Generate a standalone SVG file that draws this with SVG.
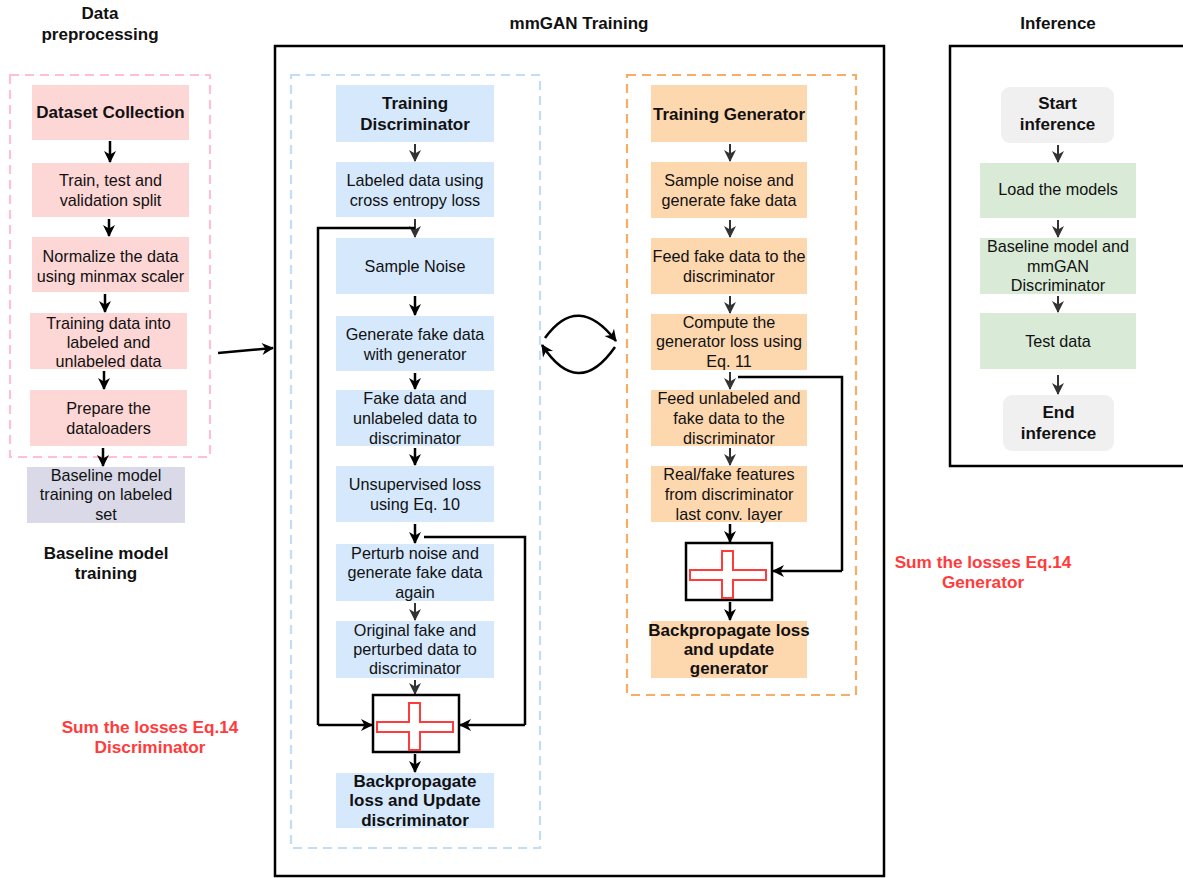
<svg xmlns="http://www.w3.org/2000/svg" width="1183" height="878" viewBox="0 0 1183 878">
<style>
text{font-family:"Liberation Sans",Arial,sans-serif;font-size:16.2px;fill:#111;text-anchor:middle}
.b{font-weight:bold;font-size:17px}
.red{fill:#ff3b3b;font-weight:bold;font-size:17.2px}
.pk{fill:#fdd6d6}
.lv{fill:#d9d9e8}
.bl{fill:#d5e8fc}
.or{fill:#fdd7ae}
.gr{fill:#d9ebd7}
.gy{fill:#f0f0f0}
.frame{fill:none;stroke:#000;stroke-width:2.5}
.dash{fill:none;stroke-width:2.2;stroke-dasharray:9 6}
.plus{fill:#fff;stroke:#000;stroke-width:2.5}
.cross{fill:#fff;stroke:#ff3b3b;stroke-width:2}
.a{fill:none;stroke:#000;stroke-width:2.5;marker-end:url(#ab)}
.g{fill:none;stroke:#333;stroke-width:2;marker-end:url(#ag)}
.ln{fill:none;stroke:#000;stroke-width:2.5}
</style>
<defs>
<marker id="ab" markerUnits="userSpaceOnUse" markerWidth="14" markerHeight="14" viewBox="0 0 14 14" refX="12" refY="7" orient="auto">
<path d="M1,1 L13,7 L1,13 L4.5,7 z" fill="#000"/>
</marker>
<marker id="ag" markerUnits="userSpaceOnUse" markerWidth="14" markerHeight="14" viewBox="0 0 14 14" refX="12" refY="7" orient="auto">
<path d="M1,1 L13,7 L1,13 L4.5,7 z" fill="#333"/>
</marker>
</defs>

<g id="titles">
<text class="b" x="100" y="19">Data</text>
<text class="b" x="100" y="40">preprocessing</text>
<text class="b" x="579" y="29">mmGAN Training</text>
<text class="b" x="1058" y="29">Inference</text>
</g>

<g id="containers">
<rect class="dash" x="10" y="75" width="200" height="382" stroke="#ffbfd6"/>
<rect class="frame" x="275" y="46" width="609" height="830"/>
<rect class="dash" x="291" y="75" width="249" height="773" stroke="#c3dcf7"/>
<rect class="dash" x="627" y="75" width="229" height="620" stroke="#f7ad66"/>
<rect class="frame" x="950" y="46" width="245" height="420"/>
</g>

<g id="connectors">
<path class="a" d="M110,141 V162"/>
<path class="a" d="M109,219 V236"/>
<path class="a" d="M105,294 V312"/>
<path class="a" d="M104,371 V389"/>
<path class="a" d="M103,448 V466"/>
<path class="a" d="M218,353 L273,348"/>
<path class="g" d="M415,144 V161"/>
<path class="g" d="M415,219 V237"/>
<path class="a" d="M415,296 V315"/>
<path class="a" d="M415,373 V389"/>
<path class="a" d="M415,448 V465"/>
<path class="a" d="M415,524 V543"/>
<path class="g" d="M415,603 V620"/>
<path class="g" d="M415,680 V694"/>
<path class="a" d="M415,754 V772"/>
<path class="ln" d="M415,228 H318 V725"/>
<path class="a" d="M318,725 H372"/>
<path class="ln" d="M424,537 H525 V725"/>
<path class="a" d="M525,725 H460"/>
<path class="a" d="M545,338 Q578,292 616,341"/>
<path class="a" d="M615,347 Q578,400 542,345"/>
<path class="g" d="M730,144 V161"/>
<path class="g" d="M730,220 V237"/>
<path class="g" d="M730,296 V313"/>
<path class="g" d="M730,372 V389"/>
<path class="g" d="M730,448 V465"/>
<path class="a" d="M730,524 V542"/>
<path class="a" d="M730,602 V620"/>
<path class="ln" d="M738,377 H842 V571"/>
<path class="a" d="M842,571 H773"/>
<path class="g" d="M1058,145 V162"/>
<path class="g" d="M1058,220 V237"/>
<path class="g" d="M1058,296 V312"/>
<path class="g" d="M1058,375 V394"/>
</g>

<g id="n-dataset"><rect class="pk" x="32" y="85" width="157" height="55"/><text class="b" x="110.5" y="118">Dataset Collection</text></g>
<g id="n-split"><rect class="pk" x="32" y="163" width="157" height="54"/><text x="110.5" y="186">Train, test and</text><text x="110.5" y="206">validation split</text></g>
<g id="n-normalize"><rect class="pk" x="32" y="237" width="157" height="55"/><text x="110.5" y="262">Normalize the data</text><text x="110.5" y="282">using minmax scaler</text></g>
<g id="n-labeled"><rect class="pk" x="30" y="313" width="157" height="56"/><text x="108.5" y="329">Training data into</text><text x="108.5" y="348">labeled and</text><text x="108.5" y="367">unlabeled data</text></g>
<g id="n-loaders"><rect class="pk" x="30" y="390" width="157" height="56"/><text x="108.5" y="414">Prepare the</text><text x="108.5" y="434">dataloaders</text></g>
<g id="n-baseline"><rect class="lv" x="27" y="467" width="158" height="56"/><text x="106" y="481">Baseline model</text><text x="106" y="500">training on labeled</text><text x="106" y="520">set</text></g>
<g id="l-baseline"><text class="b" x="106" y="559">Baseline model</text><text class="b" x="106" y="579">training</text></g>

<g id="d-title"><rect class="bl" x="336" y="85" width="158" height="57"/><text class="b" x="415" y="109">Training</text><text class="b" x="415" y="130">Discriminator</text></g>
<g id="d-labeled"><rect class="bl" x="336" y="162" width="158" height="55"/><text x="415" y="186">Labeled data using</text><text x="415" y="206">cross entropy loss</text></g>
<g id="d-noise"><rect class="bl" x="336" y="238" width="158" height="56"/><text x="415" y="272">Sample Noise</text></g>
<g id="d-generate"><rect class="bl" x="336" y="316" width="158" height="55"/><text x="415" y="340">Generate fake data</text><text x="415" y="360">with generator</text></g>
<g id="d-fake"><rect class="bl" x="336" y="390" width="158" height="56"/><text x="415" y="404">Fake data and</text><text x="415" y="424">unlabeled data to</text><text x="415" y="444">discriminator</text></g>
<g id="d-unsup"><rect class="bl" x="336" y="466" width="158" height="56"/><text x="415" y="490">Unsupervised loss</text><text x="415" y="510">using Eq. 10</text></g>
<g id="d-perturb"><rect class="bl" x="336" y="544" width="158" height="57"/><text x="415" y="559">Perturb noise and</text><text x="415" y="578">generate fake data</text><text x="415" y="598">again</text></g>
<g id="d-original"><rect class="bl" x="336" y="621" width="158" height="57"/><text x="415" y="636">Original fake and</text><text x="415" y="655">perturbed data to</text><text x="415" y="674">discriminator</text></g>
<g id="d-sum"><rect class="plus" x="373" y="695" width="86" height="57"/><path class="cross" d="M409,703 H420 V722 H453 V732 H420 V750 H409 V732 H377 V722 H409 Z"/></g>
<g id="d-backprop"><rect class="bl" x="336" y="773" width="158" height="55"/><text class="b" x="415" y="787">Backpropagate</text><text class="b" x="415" y="806">loss and Update</text><text class="b" x="415" y="826">discriminator</text></g>
<g id="l-dsum"><text class="red" x="150" y="733">Sum the losses Eq.14</text><text class="red" x="150" y="753">Discriminator</text></g>

<g id="g-title"><rect class="or" x="651" y="85" width="156" height="57"/><text class="b" x="729" y="120">Training Generator</text></g>
<g id="g-sample"><rect class="or" x="651" y="162" width="156" height="56"/><text x="729" y="186">Sample noise and</text><text x="729" y="206">generate fake data</text></g>
<g id="g-feed"><rect class="or" x="651" y="238" width="156" height="56"/><text x="729" y="262">Feed fake data to the</text><text x="729" y="282">discriminator</text></g>
<g id="g-compute"><rect class="or" x="651" y="314" width="156" height="56"/><text x="729" y="328">Compute the</text><text x="729" y="347">generator loss using</text><text x="729" y="367">Eq. 11</text></g>
<g id="g-feedun"><rect class="or" x="651" y="390" width="156" height="56"/><text x="729" y="404">Feed unlabeled and</text><text x="729" y="424">fake data to the</text><text x="729" y="444">discriminator</text></g>
<g id="g-features"><rect class="or" x="651" y="466" width="156" height="56"/><text x="729" y="480">Real/fake features</text><text x="729" y="500">from discriminator</text><text x="729" y="520">last conv. layer</text></g>
<g id="g-sum"><rect class="plus" x="686" y="543" width="86" height="57"/><path class="cross" d="M722,551 H733 V570 H766 V580 H733 V598 H722 V580 H690 V570 H722 Z"/></g>
<g id="g-backprop"><rect class="or" x="651" y="621" width="156" height="57"/><text class="b" x="729" y="636">Backpropagate loss</text><text class="b" x="729" y="655">and update</text><text class="b" x="729" y="674">generator</text></g>
<g id="l-gsum"><text class="red" x="983" y="568">Sum the losses Eq.14</text><text class="red" x="983" y="588">Generator</text></g>

<g id="i-start"><rect class="gy" x="1001" y="87" width="113" height="56" rx="9"/><text class="b" x="1057.5" y="109">Start</text><text class="b" x="1057.5" y="130">inference</text></g>
<g id="i-load"><rect class="gr" x="980" y="163" width="156" height="55"/><text x="1058" y="195">Load the models</text></g>
<g id="i-models"><rect class="gr" x="980" y="238" width="156" height="56"/><text x="1058" y="252">Baseline model and</text><text x="1058" y="272">mmGAN</text><text x="1058" y="291">Discriminator</text></g>
<g id="i-test"><rect class="gr" x="980" y="313" width="156" height="56"/><text x="1058" y="347">Test data</text></g>
<g id="i-end"><rect class="gy" x="1003" y="395" width="111" height="56" rx="9"/><text class="b" x="1058.5" y="418">End</text><text class="b" x="1058.5" y="439">inference</text></g>
</svg>
